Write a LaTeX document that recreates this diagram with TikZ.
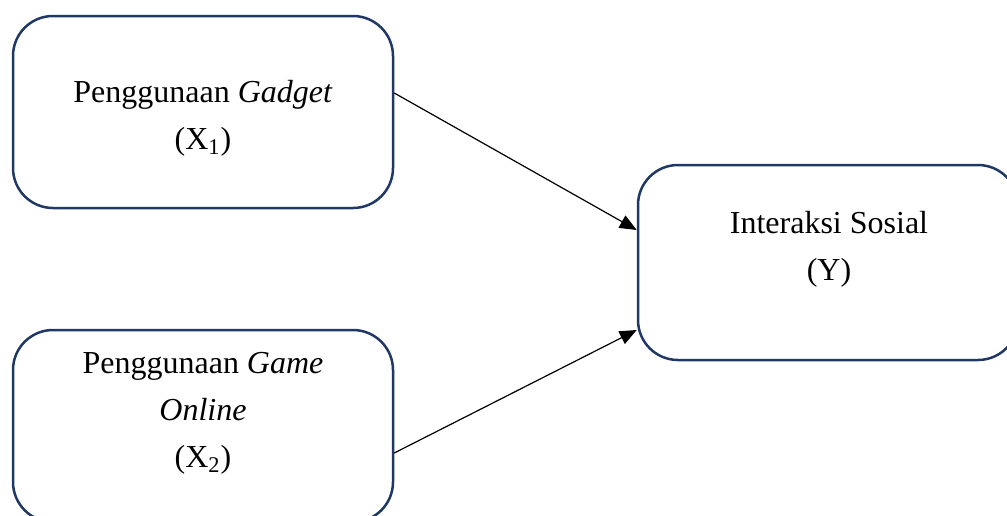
\documentclass[tikz,border=0pt]{standalone}
\usepackage{fontspec}
\setmainfont{Liberation Serif}
\usetikzlibrary{arrows.meta}
\definecolor{boxline}{RGB}{31,56,100}
\begin{document}
\begin{tikzpicture}[x=0.5pt,y=-0.5pt,
  varbox/.style={draw=boxline, line width=1.25pt, rounded corners=20pt,
    minimum width=190pt, minimum height=96pt, inner sep=0pt},
  vartext/.style={align=center, font=\fontsize{16}{23.5}\selectfont, inner sep=0pt},
  link/.style={line width=0.6pt, -{Triangle[length=8.5pt,width=7pt]}}]
  \useasboundingbox (0,0) rectangle (1007,515);

  % variable boxes
  \node[varbox] (gadget) at (203,112) {};
  \node[varbox] (game) at (203,426) {};
  \node[varbox, minimum height=97.5pt] (social) at (828,262.5) {};

  % box captions
  \node[vartext] (gadgettext) at (203,118) {Penggunaan \textit{Gadget}\\(X\textsubscript{1})};
  \node[vartext] (gametext) at (203,413.5) {Penggunaan \textit{Game}\\\textit{Online}\\(X\textsubscript{2})};
  \node[vartext] (socialtext) at (829,249) {Interaksi Sosial\\(Y)};

  % influence arrows
  \draw[link] ([yshift=9.5pt]gadget.east) -- ([yshift=16.25pt]social.west);
  \draw[link] ([yshift=-13.5pt]game.east) -- ([yshift=-33.75pt]social.west);
\end{tikzpicture}
\end{document}
